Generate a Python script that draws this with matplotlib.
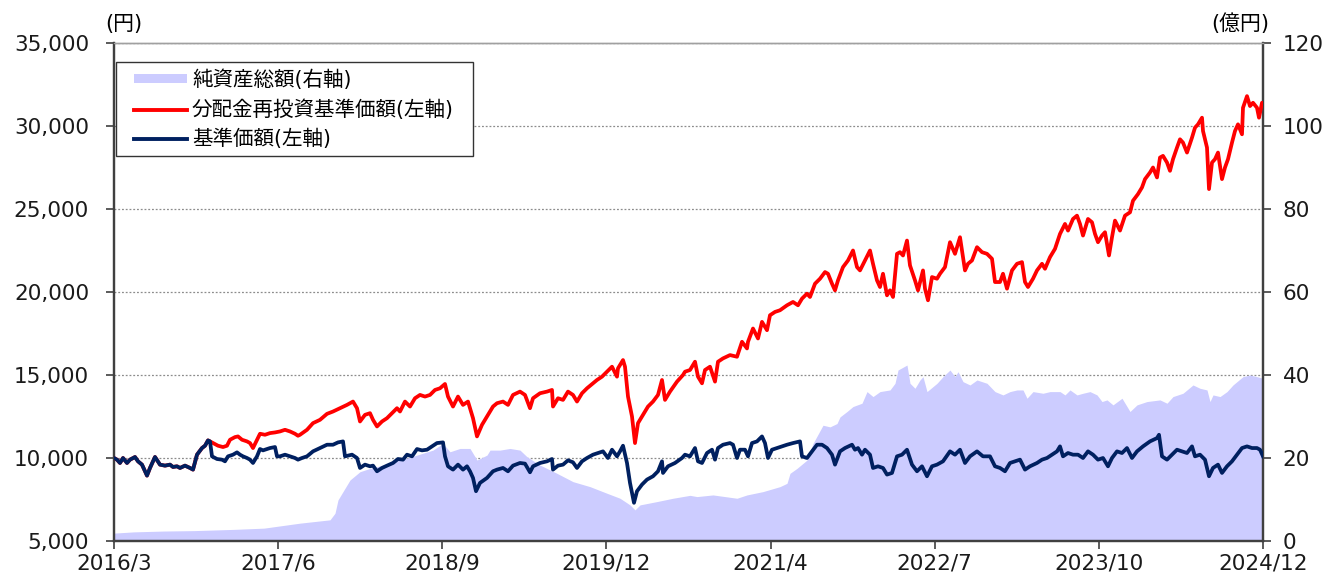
import matplotlib
matplotlib.use("Agg")
import matplotlib.pyplot as plt
import numpy as np
from matplotlib.patches import Patch, Rectangle
from matplotlib.lines import Line2D

plt.rcParams['font.family'] = ['DejaVu Sans', 'Noto Sans CJK JP']

# ---------------- data ----------------
# observation index (0 = 2016/3 start, 1149 = 2024/12 end)
x_labels = ["2016/3", "2017/6", "2018/9", "2019/12", "2021/4", "2022/7", "2023/10", "2024/12"]
x_end = 1149

# 基準価額 (円)
nav_t = [0, 3, 6, 9, 13, 16, 21, 24, 28, 33, 36, 41, 46, 51, 56, 59, 63, 66, 71, 76, 79, 83, 88, 91, 94, 96,
         98, 103, 108, 111, 114, 119, 123, 126, 129, 133, 136, 139, 143, 146, 149, 153, 156, 161, 163, 166, 171,
         176, 181, 184, 188, 193, 199, 206, 213, 219, 224, 229, 231, 238, 243, 246, 251, 256, 259, 263, 268, 273,
         279, 284, 289, 293, 298, 303, 308, 313, 318, 323, 329, 331, 334, 339, 344, 349, 353, 356, 359, 362, 366,
         373, 379, 383, 389, 394, 399, 406, 411, 416, 419, 426, 433, 438, 439, 444, 449, 454, 459, 463, 468, 473,
         479, 484, 489, 494, 498, 503, 506, 509, 513, 516, 520, 523, 528, 533, 539, 544, 548, 549, 554, 561, 568,
         571, 576, 581, 584, 588, 593, 598, 601, 604, 609, 616, 619, 623, 626, 631, 634, 638, 643, 648, 651, 654,
         658, 663, 668, 673, 679, 686, 688, 693, 698, 703, 708, 713, 718, 721, 726, 731, 738, 741, 744, 748, 751,
         756, 759, 764, 769, 773, 778, 783, 788, 793, 798, 803, 808, 813, 818, 823, 829, 836, 841, 846, 851, 856,
         863, 869, 876, 881, 886, 891, 896, 901, 906, 911, 916, 923, 928, 933, 938, 943, 946, 949, 954, 959, 964,
         969, 974, 979, 984, 989, 994, 998, 1003, 1008, 1013, 1018, 1023, 1029, 1036, 1043, 1045, 1048, 1053,
         1058, 1063, 1068, 1073, 1078, 1081, 1086, 1091, 1095, 1099, 1104, 1108, 1113, 1118, 1123, 1128, 1133,
         1138, 1143, 1146, 1149]
nav = [10000, 9900, 9700, 10000, 9700, 9900, 10060, 9800, 9600, 8940, 9400, 10060, 9600, 9540, 9600, 9460, 9500,
       9400, 9540, 9400, 9300, 10200, 10600, 10740, 11060, 11000,
       10100, 9940, 9900, 9800, 10100, 10200, 10340, 10200, 10100, 10000, 9900, 9700, 10100, 10540, 10460, 10540,
       10600, 10660, 10100, 10100, 10200, 10100, 10000, 9900, 10000, 10100, 10400, 10600, 10800, 10800, 10940,
       11000, 10100, 10200, 10000, 9400, 9600, 9500, 9540, 9200, 9400, 9540, 9700, 9940, 9900, 10200, 10100,
       10540, 10460, 10500, 10700, 10900, 10940, 10100, 9500, 9300, 9600, 9300, 9500, 9200, 8800, 8000, 8500,
       8800, 9200, 9300, 9400, 9200, 9540, 9700, 9660, 9140, 9500, 9700, 9800, 9940, 9300, 9540, 9600, 9860,
       9740, 9400, 9800, 10000, 10200, 10300, 10400, 10000, 10500, 10100, 10400, 10740, 9700, 8500, 7300, 8000,
       8400, 8700, 8900, 9200, 9800, 9100, 9500, 9700, 10000, 10200, 10100, 10600, 9800, 9700, 10300, 10500,
       9900, 10600, 10800, 10900, 10800, 10000, 10500, 10500, 10100, 10900, 11000, 11300, 10900, 10000, 10500,
       10600, 10700, 10800, 10900, 11000, 10100, 10000, 10400, 10800, 10800, 10600, 10200, 9600, 10400, 10600,
       10800, 10500, 10600, 10200, 10500, 10200, 9400, 9500, 9400, 9000, 9100, 10100, 10200, 10500, 9600, 9200,
       9500, 8900, 9500, 9600, 9800, 10400, 10200, 10500, 9700, 10100, 10400, 10100, 10100, 9500, 9400, 9200,
       9700, 9800, 9900, 9300, 9500, 9700, 9900, 10000, 10200, 10400, 10700, 10100, 10300, 10200, 10200, 10000,
       10400, 10200, 9900, 10000, 9500, 10000, 10400, 10300, 10600, 10000, 10400, 10700, 11000, 11200, 11400,
       10100, 9900, 10200, 10500, 10400, 10300, 10700, 10100, 10200, 9900, 8900, 9400, 9600, 9100, 9500, 9800,
       10200, 10600, 10700, 10600, 10600, 10500, 10100]

# 分配金再投資基準価額 (円)
red_t = [0, 3, 6, 9, 13, 16, 21, 24, 28, 33, 36, 41, 46, 51, 56, 59, 63, 66, 71, 76, 79, 83, 88, 91, 94, 96,
         99, 104, 109, 113, 116, 121, 124, 128, 133, 136, 139, 143, 146, 151, 156, 161, 166, 171, 176, 181, 184,
         186, 193, 199, 206, 213, 219, 226, 233, 239, 243, 246, 251, 256, 259, 263, 268, 273, 278, 283, 286, 291,
         296, 301, 306, 311, 316, 321, 326, 331, 334, 339, 344, 349, 354, 359, 363, 368, 373, 379, 383, 389, 394,
         399, 406, 411, 416, 419, 426, 433, 438, 439, 444, 449, 454, 459, 463, 468, 473, 479, 483, 488, 493, 498,
         503, 504, 509, 511, 514, 518, 521, 524, 529, 534, 539, 544, 548, 551, 556, 563, 569, 571, 576, 581, 584,
         588, 591, 596, 601, 604, 609, 616, 623, 628, 633, 634, 639, 644, 648, 653, 656, 661, 666, 673, 679, 684,
         688, 693, 696, 701, 706, 711, 714, 718, 721, 724, 729, 734, 739, 743, 746, 751, 756, 759, 763, 766, 769,
         773, 776, 779, 783, 786, 789, 793, 796, 801, 804, 809, 811, 814, 818, 823, 826, 831, 836, 841, 846, 851,
         854, 858, 863, 868, 873, 878, 881, 886, 889, 893, 898, 903, 908, 911, 914, 919, 923, 928, 931, 936, 941,
         946, 951, 954, 959, 963, 966, 969, 974, 978, 981, 984, 988, 991, 995, 998, 1001, 1006, 1011, 1016, 1019,
         1024, 1028, 1031, 1036, 1039, 1043, 1046, 1049, 1053, 1056, 1059, 1063, 1066, 1069, 1073, 1078, 1081,
         1084, 1088, 1089, 1093, 1095, 1098, 1101, 1104, 1108, 1111, 1114, 1118, 1121, 1124, 1128, 1129, 1133,
         1136, 1139, 1143, 1145, 1148, 1149]
red = [10000, 9900, 9700, 10000, 9700, 9900, 10060, 9800, 9600, 8940, 9400, 10060, 9600, 9540, 9600, 9460, 9500,
       9400, 9540, 9400, 9300, 10200, 10600, 10740, 11060, 11000,
       10900, 10740, 10660, 10740, 11100, 11260, 11300, 11100, 11000, 10900, 10600, 11100, 11460, 11400, 11500,
       11540, 11600, 11700, 11600, 11460, 11340, 11400, 11700, 12100, 12300, 12660, 12800, 13000, 13200, 13400,
       13000, 12200, 12600, 12700, 12300, 11900, 12200, 12400, 12700, 13000, 12800, 13400, 13100, 13600, 13800,
       13700, 13800, 14100, 14200, 14460, 13700, 13100, 13700, 13200, 13400, 12400, 11300, 12000, 12500, 13100,
       13300, 13400, 13200, 13800, 14000, 13800, 13000, 13600, 13900, 14000, 14100, 13100, 13600, 13500, 14000,
       13800, 13400, 13900, 14200, 14500, 14700, 14900, 15200, 15500, 14900, 15400, 15900, 15500, 13700, 12500,
       10900, 12100, 12600, 13100, 13400, 13800, 14700, 13500, 14000, 14600, 15000, 15200, 15300, 15800, 14900,
       14500, 15300, 15500, 14600, 15800, 16000, 16200, 16100, 17000, 16600, 17000, 17800, 17200, 18200, 17700,
       18600, 18800, 18900, 19200, 19400, 19200, 19600, 19900, 19700, 20500, 20800, 21200, 21100, 20500, 20100,
       20700, 21500, 21900, 22500, 21500, 21300, 21900, 22500, 21700, 20700, 20300, 21100, 19800, 20100, 19700,
       22300, 22400, 22200, 23100, 21600, 20700, 20100, 21300, 20200, 19500, 20900, 20800, 21100, 21500, 23000,
       22300, 23300, 21300, 21700, 21900, 22700, 22400, 22300, 22000, 20600, 20600, 21100, 20200, 21300, 21700,
       21800, 20600, 20300, 20800, 21300, 21700, 21400, 22100, 22600, 23500, 24100, 23700, 24400, 24600, 24100,
       23400, 24400, 24200, 23500, 23000, 23400, 23600, 22200, 23300, 24300, 23700, 24600, 24800, 25500, 25900,
       26300, 26800, 27200, 27500, 26900, 28100, 28200, 27800, 27300, 28000, 28700, 29200, 29000, 28400, 29300,
       29900, 30100, 30500, 29700, 28700, 26200, 27800, 28000, 28400, 26800, 27500, 28000, 29000, 29700, 30100,
       29500, 31100, 31800, 31200, 31400, 31100, 30500, 31400, 31300]

# 純資産総額 (億円)
aum_t = [0, 20, 50, 80, 120, 150, 186, 216, 221, 224, 229, 236, 246, 256, 269, 286, 303, 319, 329, 336, 346, 356,
         363, 373, 376, 386, 396, 406, 413, 426, 443, 459, 476, 493, 506, 516, 521, 526, 543, 559, 576, 583, 599,
         623, 633, 649, 666, 673, 676, 683, 693, 699, 709, 716, 723, 726, 733, 739, 748, 753, 759, 766, 776, 781,
         784, 793, 796, 801, 806, 809, 813, 823, 829, 836, 841, 844, 849, 856, 863, 873, 881, 889, 896, 903, 909,
         913, 919, 929, 936, 946, 951, 956, 963, 969, 976, 983, 988, 993, 999, 1008, 1016, 1023, 1033, 1046, 1053,
         1059, 1069, 1079, 1086, 1093, 1096, 1099, 1106, 1113, 1119, 1129, 1136, 1143, 1149]
aum = [1.9, 2.2, 2.4, 2.5, 2.8, 3.1, 4.3, 5.1, 6.7, 9.9, 11.9, 14.7, 16.7, 17.5, 18.3, 19.5, 20.7, 21.9, 23.5, 21.5,
       22.3, 22.3, 19.5, 20.7, 21.9, 21.9, 22.3, 21.9, 20.3, 18.3, 16.3, 14.3, 13.1, 11.5, 10.3, 8.7, 7.5, 8.7, 9.5,
       10.3, 11.0, 10.7, 11.1, 10.3, 11.1, 11.9, 13.1, 13.9, 16.3, 17.5, 19.5, 23.5, 27.9, 27.5, 28.3, 29.9, 31.2,
       32.4, 33.2, 36.0, 34.8, 36.0, 36.4, 38.0, 41.2, 42.4, 38.0, 36.8, 38.8, 39.6, 36.0, 38.0, 39.6, 41.2, 39.6,
       40.8, 38.4, 37.6, 38.8, 38.0, 36.0, 35.2, 36.0, 36.4, 36.4, 34.4, 36.0, 35.6, 36.0, 36.0, 35.2, 36.4, 35.2,
       35.6, 36.0, 35.2, 33.6, 34.0, 32.8, 34.4, 31.2, 32.8, 33.6, 34.0, 33.2, 34.8, 35.6, 37.6, 36.8, 36.4, 33.6,
       35.2, 34.8, 36.0, 37.6, 39.6, 40.0, 39.6, 39.2]

legend_labels = ["純資産総額(右軸)", "分配金再投資基準価額(左軸)", "基準価額(左軸)"]

# ---------------- styles ----------------
W, H = 1322, 574
C_FILL = "#CCCCFF"
C_RED = "#FF0000"
C_NAVY = "#002060"
TICK_FS = 15.5

fig = plt.figure(figsize=(W / 100, H / 100), dpi=100)
ax = fig.add_axes([114 / W, 33 / H, 1149 / W, 498 / H])
ax2 = ax.twinx()

# right axis (background): fill + grid
ax2.fill_between(aum_t, 0, aum, color=C_FILL, linewidth=0, zorder=2)
ax2.set_ylim(0, 120)
ax2.set_yticks(np.arange(0, 121, 20))
ax2.grid(axis="y", color="#8C8C8C", linestyle=(0, (1.5, 1.5)), linewidth=0.9, zorder=1)
ax2.set_axisbelow(True)

# left axis (front): lines
ax.plot(red_t, red, color=C_RED, linewidth=2.7, solid_joinstyle="round", zorder=3)
ax.plot(nav_t, nav, color=C_NAVY, linewidth=2.7, solid_joinstyle="round", zorder=4)
ax.set_ylim(5000, 35000)
ax.set_yticks(np.arange(5000, 35001, 5000))
ax.yaxis.set_major_formatter(matplotlib.ticker.FuncFormatter(lambda v, p: f"{int(v):,}"))
ax.set_xlim(0, x_end)
ax.set_xticks(np.linspace(0, x_end, len(x_labels)))
ax.set_xticklabels(x_labels)

ax.set_zorder(ax2.get_zorder() + 1)
ax.patch.set_visible(False)

for a in (ax, ax2):
    for s in ("left", "right", "bottom"):
        a.spines[s].set_color("#404040")
        a.spines[s].set_linewidth(1.6)
    a.spines["top"].set_color("#A0A0A0")
    a.spines["top"].set_linewidth(1.0)

ax.tick_params(axis="y", direction="out", length=6, width=1.2, color="#404040",
               labelsize=TICK_FS, pad=12, labelcolor="#1a1a1a")
ax.tick_params(axis="x", direction="out", length=6, width=1.2, color="#404040",
               labelsize=TICK_FS, pad=3, labelcolor="#1a1a1a")
ax2.tick_params(axis="y", direction="out", length=6, width=1.2, color="#404040",
                labelsize=TICK_FS, pad=8, labelcolor="#1a1a1a")

# unit labels
fig.text(124 / W, 1 - 24 / H, "(円)", ha="center", va="center", fontsize=15)
fig.text(1240 / W, 1 - 24 / H, "(億円)", ha="center", va="center", fontsize=15)

# legend frame
fig.patches.append(Rectangle((116 / W, 1 - 156 / H), 357 / W, 93.5 / H, transform=fig.transFigure,
                             facecolor="white", edgecolor="#333333", linewidth=1.0, zorder=5))
handles = [Patch(facecolor=C_FILL, edgecolor="none"),
           Line2D([], [], color=C_RED, linewidth=2.8),
           Line2D([], [], color=C_NAVY, linewidth=2.8)]
leg = fig.legend(handles, legend_labels, loc="upper left", bbox_to_anchor=(134 / W, 1 - 69.5 / H),
                 frameon=False, fontsize=14.8, handlelength=2.6, handleheight=0.35,
                 handletextpad=0.22, labelspacing=0.45, borderpad=0.0, borderaxespad=0.0)
leg.set_zorder(6)

fig.savefig("out.png", dpi=100)
